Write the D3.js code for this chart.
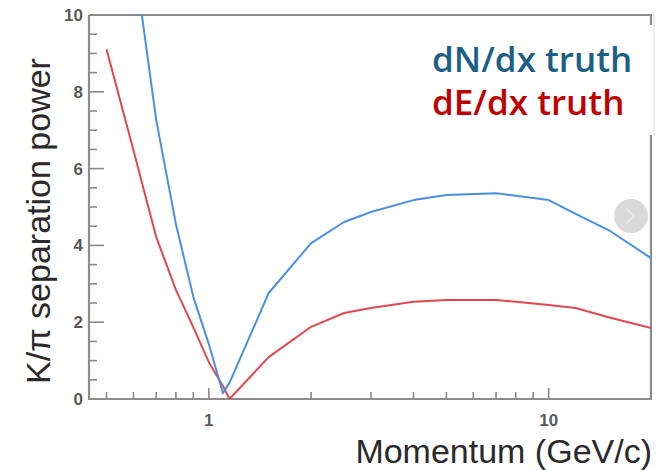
<!DOCTYPE html>
<html>
<head>
<meta charset="utf-8">
<script src="https://cdn.jsdelivr.net/npm/d3@7"></script>
<style>
  html, body { margin: 0; padding: 0; background: #fff; }
  svg { display: block; }
</style>
</head>
<body>
<svg id="chart" width="672" height="470"></svg>
<script>
// ---- data ----
const momentum = [0.5, 0.6, 0.7, 0.8, 0.9, 1.0, 1.1, 1.15, 1.5, 2, 2.5, 3, 4, 5, 7, 10, 12, 15, 20];
const dNdxTruth = [15.5, 11.6, 7.27, 4.56, 2.66, 1.43, 0.15, 0.42, 2.76, 4.06, 4.61, 4.87, 5.18, 5.31, 5.36, 5.18, 4.82, 4.4, 3.67];
const dEdxTruth = [9.11, 6.48, 4.22, 2.84, 1.87, 0.96, 0.34, 0.0, 1.09, 1.88, 2.24, 2.37, 2.53, 2.58, 2.58, 2.45, 2.37, 2.13, 1.85];
const seriesNames = ["dN/dx truth", "dE/dx truth"];
const yTickValues = [0, 2, 4, 6, 8, 10];
const xTickLabels = [1, 10];
const xMinorTicks = [0.5, 0.6, 0.7, 0.8, 0.9, 2, 3, 4, 5, 6, 7, 8, 9];
const xAxisTitle = "Momentum (GeV/c)";
const yAxisTitle = "K/\u03C0 separation power";

// ---- layout ----
const L = 89, R = 651, T = 15, B = 399;
const svg = d3.select("#chart");
const x = d3.scaleLog().domain([0.444, 20]).range([L, R]);
const y = d3.scaleLinear().domain([0, 10]).range([B, T]);

const axisColor = "#8c8c8c";

// clip
svg.append("clipPath").attr("id", "plotclip")
  .append("rect").attr("x", L).attr("y", T).attr("width", R - L).attr("height", B - T);

// y ticks (inward)
const yMinor = d3.range(0, 10.01, 0.5);
svg.append("g").selectAll("line").data(yMinor).join("line")
  .attr("x1", L).attr("x2", d => L + (d % 2 === 0 ? 15 : 8))
  .attr("y1", d => y(d)).attr("y2", d => y(d))
  .attr("stroke", "#8a8a8a").attr("stroke-width", 1.6);

// x ticks (inward)
svg.append("g").selectAll("line").data(xMinorTicks).join("line")
  .attr("x1", d => x(d)).attr("x2", d => x(d))
  .attr("y1", B).attr("y2", B - 7)
  .attr("stroke", "#8a8a8a").attr("stroke-width", 1.6);
svg.append("g").selectAll("line").data(xTickLabels).join("line")
  .attr("x1", d => x(d)).attr("x2", d => x(d))
  .attr("y1", B).attr("y2", B - 11)
  .attr("stroke", "#8a8a8a").attr("stroke-width", 1.6);

// frame
svg.append("path")
  .attr("d", `M${L},${T}V${B}H${R}V${T}H${L}`)
  .attr("fill", "none").attr("stroke", axisColor).attr("stroke-width", 2.2);

// tick labels
svg.append("g").selectAll("text").data(yTickValues).join("text")
  .attr("x", 83).attr("y", d => y(d) + 6)
  .attr("text-anchor", "end")
  .attr("font-family", "Liberation Sans, Arial, sans-serif")
  .attr("font-weight", "bold").attr("font-size", 17)
  .attr("fill", "#5a5a5a")
  .text(d => d);
svg.append("g").selectAll("text").data(xTickLabels).join("text")
  .attr("x", d => x(d)).attr("y", 426)
  .attr("text-anchor", "middle")
  .attr("font-family", "Liberation Sans, Arial, sans-serif")
  .attr("font-weight", "bold").attr("font-size", 17)
  .attr("fill", "#5a5a5a")
  .text(d => d);

// lines
const line = d3.line().x((d, i) => x(momentum[i])).y(d => y(d));
const g = svg.append("g").attr("clip-path", "url(#plotclip)");
g.append("path").datum(dEdxTruth).attr("d", line)
  .attr("fill", "none").attr("stroke", "#e2474d").attr("stroke-width", 2).attr("stroke-linejoin", "round");
g.append("path").datum(dNdxTruth).attr("d", line)
  .attr("fill", "none").attr("stroke", "#4a90e2").attr("stroke-width", 2).attr("stroke-linejoin", "round");

// axis titles
svg.append("text")
  .attr("x", R + 1).attr("y", 463)
  .attr("text-anchor", "end")
  .attr("font-family", "Liberation Sans, Arial, sans-serif")
  .attr("font-size", 34).attr("fill", "#2a2a2a")
  .text(xAxisTitle);
svg.append("text")
  .attr("transform", "translate(50,221) rotate(-90)")
  .attr("text-anchor", "middle")
  .attr("font-family", "Liberation Sans, Arial, sans-serif")
  .attr("font-size", 34).attr("fill", "#2a2a2a")
  .text(yAxisTitle);

// legend (pasted white box)
svg.append("rect").attr("x", 420).attr("y", 25).attr("width", 234).attr("height", 110).attr("fill", "#fff");
svg.append("line").attr("x1", 654).attr("x2", 654).attr("y1", 13).attr("y2", 135)
  .attr("stroke", "#dedede").attr("stroke-width", 1);
const legendColors = ["#1b5f86", "#c00000"];
svg.append("g").selectAll("text").data(seriesNames).join("text")
  .attr("x", 432).attr("y", (d, i) => 72 + i * 43)
  .attr("font-family", "Open Sans, Noto Sans, sans-serif")
  .attr("font-weight", 600).attr("font-size", 35)
  .attr("fill", (d, i) => legendColors[i])
  .text(d => d);

// carousel button overlay
svg.append("circle").attr("cx", 631).attr("cy", 216).attr("r", 17)
  .attr("fill", "#d6d6d6").attr("opacity", 0.9);
svg.append("path").attr("d", "M627,209 L634,216 L627,223")
  .attr("fill", "none").attr("stroke", "#ececec").attr("stroke-width", 1.5);
</script>
</body>
</html>
